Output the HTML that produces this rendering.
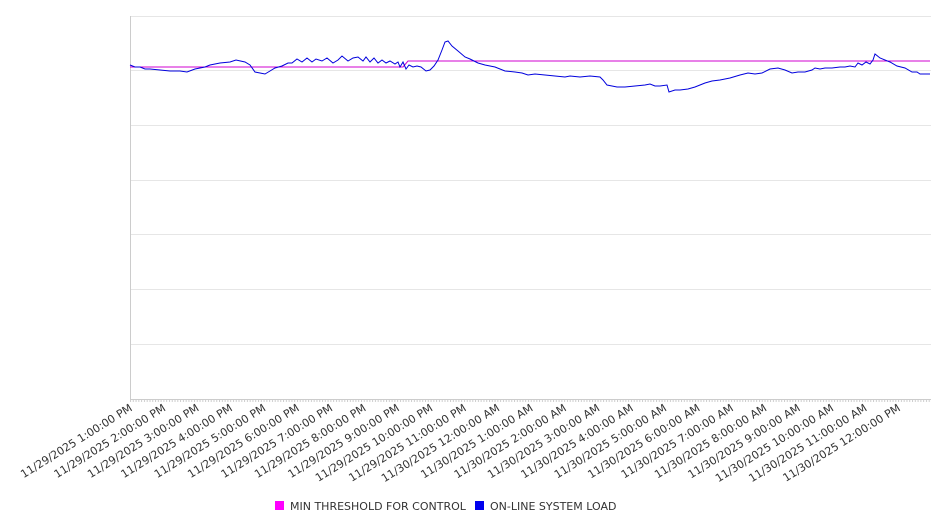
<!DOCTYPE html>
<html><head><meta charset="utf-8"><style>
html,body{margin:0;padding:0;background:#fff;}
svg{display:block;font-family:"DejaVu Sans","Liberation Sans",sans-serif;}
</style></head><body>
<svg width="946" height="526" viewBox="0 0 946 526" xmlns="http://www.w3.org/2000/svg">
<defs>
<pattern id="mt" x="130" y="399" width="2.783" height="4" patternUnits="userSpaceOnUse">
<line x1="0.5" y1="0" x2="0.5" y2="3" stroke="#ccc" stroke-width="1"/>
</pattern>
</defs>
<g stroke="#e6e6e6" stroke-width="1">
<line x1="130" y1="16.5" x2="931" y2="16.5"/>
<line x1="130" y1="70.5" x2="931" y2="70.5"/>
<line x1="130" y1="125.5" x2="931" y2="125.5"/>
<line x1="130" y1="180.5" x2="931" y2="180.5"/>
<line x1="130" y1="234.5" x2="931" y2="234.5"/>
<line x1="130" y1="289.5" x2="931" y2="289.5"/>
<line x1="130" y1="344.5" x2="931" y2="344.5"/>
</g>
<line x1="130.5" y1="16" x2="130.5" y2="399" stroke="#ccc"/>
<line x1="130" y1="399.5" x2="931" y2="399.5" stroke="#ccc"/>
<rect x="130" y="399" width="801" height="4" fill="url(#mt)"/>
<polyline fill="none" stroke="#d000d0" stroke-width="1" points="130,67 403,67 408,61 930,61"/>
<polyline fill="none" stroke="#0000dd" stroke-width="1" points="130,65 135,67 140,67 145,69 150,69 160,70 170,71 180,71 187,72 195,69 205,67 210,65 215,64 220,63 230,62 236,60 245,62 250,65 255,72 260,73 265,74 270,71 275,68 282,66 288,63 292,63 297,59 302,62 307,58 312,62 316,59 322,61 327,58 333,63 338,60 342,56 348,61 353,58 358,57 363,61 366,57 370,62 374,58 378,63 382,60 386,63 390,61 395,64 398,62 400,67 403,62 406,69 409,65 413,67 417,66 421,67 426,71 430,70 434,66 438,60 442,50 445,42 448,41 452,46 458,51 465,57 470,59 478,63 485,65 495,67 505,71 515,72 522,73 528,75 535,74 545,75 555,76 565,77 570,76 580,77 590,76 600,77 603,80 607,85 612,86 617,87 625,87 635,86 645,85 650,84 655,86 660,86 667,85 669,92 675,90 680,90 688,89 695,87 700,85 705,83 712,81 720,80 730,78 740,75 748,73 755,74 762,73 770,69 778,68 785,70 792,73 798,72 805,72 812,70 815,68 820,69 825,68 832,68 840,67 845,67 850,66 855,67 858,63 862,65 866,62 870,64 873,60 875,54 880,58 890,62 897,66 905,68 912,72 917,72 920,74 930,74"/>
<g font-size="11" fill="#333" text-anchor="end">
<text transform="translate(133,410) rotate(-32)">11/29/2025 1:00:00 PM</text>
<text transform="translate(166.4,410) rotate(-32)">11/29/2025 2:00:00 PM</text>
<text transform="translate(199.8,410) rotate(-32)">11/29/2025 3:00:00 PM</text>
<text transform="translate(233.2,410) rotate(-32)">11/29/2025 4:00:00 PM</text>
<text transform="translate(266.6,410) rotate(-32)">11/29/2025 5:00:00 PM</text>
<text transform="translate(300,410) rotate(-32)">11/29/2025 6:00:00 PM</text>
<text transform="translate(333.4,410) rotate(-32)">11/29/2025 7:00:00 PM</text>
<text transform="translate(366.8,410) rotate(-32)">11/29/2025 8:00:00 PM</text>
<text transform="translate(400.2,410) rotate(-32)">11/29/2025 9:00:00 PM</text>
<text transform="translate(433.6,410) rotate(-32)">11/29/2025 10:00:00 PM</text>
<text transform="translate(467,410) rotate(-32)">11/29/2025 11:00:00 PM</text>
<text transform="translate(500.4,410) rotate(-32)">11/30/2025 12:00:00 AM</text>
<text transform="translate(533.8,410) rotate(-32)">11/30/2025 1:00:00 AM</text>
<text transform="translate(567.2,410) rotate(-32)">11/30/2025 2:00:00 AM</text>
<text transform="translate(600.6,410) rotate(-32)">11/30/2025 3:00:00 AM</text>
<text transform="translate(634,410) rotate(-32)">11/30/2025 4:00:00 AM</text>
<text transform="translate(667.4,410) rotate(-32)">11/30/2025 5:00:00 AM</text>
<text transform="translate(700.8,410) rotate(-32)">11/30/2025 6:00:00 AM</text>
<text transform="translate(734.2,410) rotate(-32)">11/30/2025 7:00:00 AM</text>
<text transform="translate(767.6,410) rotate(-32)">11/30/2025 8:00:00 AM</text>
<text transform="translate(801,410) rotate(-32)">11/30/2025 9:00:00 AM</text>
<text transform="translate(834.4,410) rotate(-32)">11/30/2025 10:00:00 AM</text>
<text transform="translate(867.8,410) rotate(-32)">11/30/2025 11:00:00 AM</text>
<text transform="translate(901.2,410) rotate(-32)">11/30/2025 12:00:00 PM</text>
</g>
<rect x="275" y="501" width="9" height="9" fill="#ff00ff"/>
<text x="290" y="510" font-size="11" fill="#333">MIN THRESHOLD FOR CONTROL</text>
<rect x="475" y="501" width="9" height="9" fill="#0000ee"/>
<text x="490" y="510" font-size="11" fill="#333">ON-LINE SYSTEM LOAD</text>
</svg>
</body></html>
